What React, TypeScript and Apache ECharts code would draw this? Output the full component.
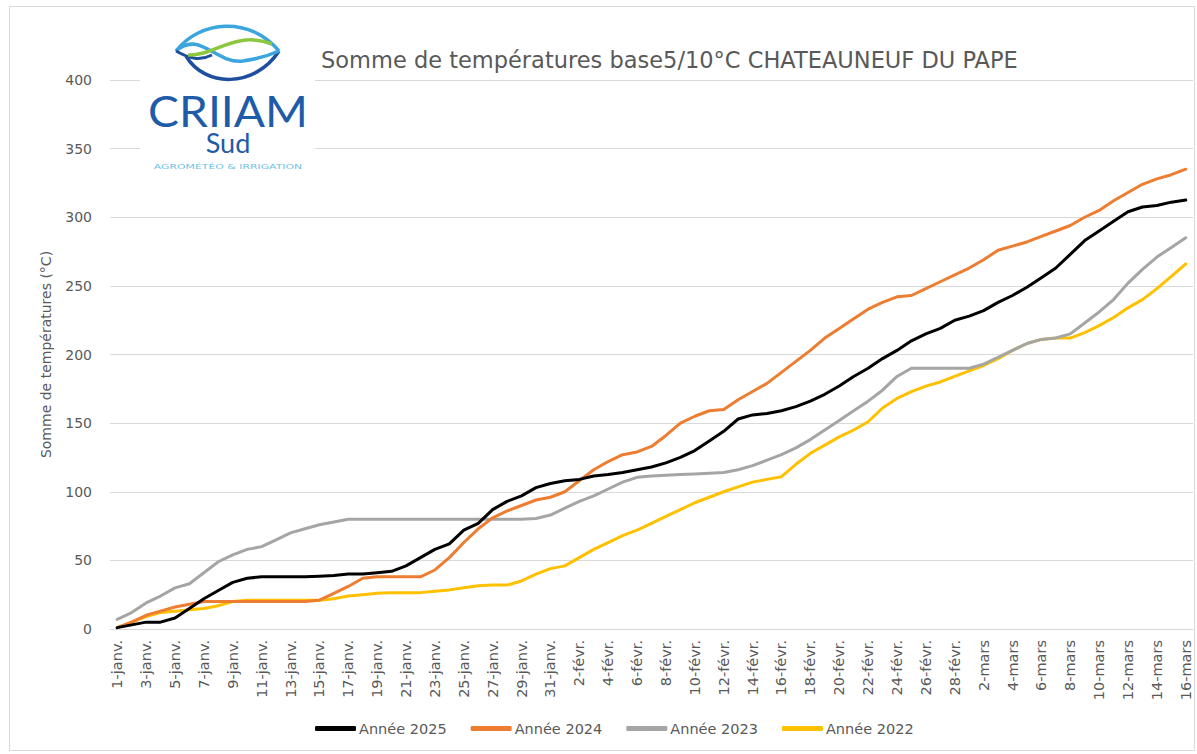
import React, { useEffect, useRef } from "react";
import * as echarts from "echarts";

const categories = [
  "1-janv.", "2-janv.", "3-janv.", "4-janv.", "5-janv.", "6-janv.", "7-janv.", "8-janv.", "9-janv.", "10-janv.",
  "11-janv.", "12-janv.", "13-janv.", "14-janv.", "15-janv.", "16-janv.", "17-janv.", "18-janv.", "19-janv.", "20-janv.",
  "21-janv.", "22-janv.", "23-janv.", "24-janv.", "25-janv.", "26-janv.", "27-janv.", "28-janv.", "29-janv.", "30-janv.",
  "31-janv.", "1-févr.", "2-févr.", "3-févr.", "4-févr.", "5-févr.", "6-févr.", "7-févr.", "8-févr.", "9-févr.",
  "10-févr.", "11-févr.", "12-févr.", "13-févr.", "14-févr.", "15-févr.", "16-févr.", "17-févr.", "18-févr.", "19-févr.",
  "20-févr.", "21-févr.", "22-févr.", "23-févr.", "24-févr.", "25-févr.", "26-févr.", "27-févr.", "28-févr.", "1-mars",
  "2-mars", "3-mars", "4-mars", "5-mars", "6-mars", "7-mars", "8-mars", "9-mars", "10-mars", "11-mars",
  "12-mars", "13-mars", "14-mars", "15-mars", "16-mars",
];

const annee2025 = [
  1, 3, 5, 5, 8, 15, 22, 28, 34, 37,
  38, 38, 38, 38, 38.5, 39, 40, 40, 41, 42,
  46, 52, 58, 62, 72, 77, 87, 93, 97, 103,
  106, 108, 109, 111.5, 112.5, 114, 116, 118, 121, 125,
  130, 137, 144, 153, 156, 157, 159, 162, 166, 171,
  177, 184, 190, 197, 203, 210, 215, 219, 225, 228,
  232, 238, 243, 249, 256, 263, 273, 283, 290, 297,
  304, 307.5, 308.5, 311, 312.5,
];

const annee2024 = [
  1, 5, 10, 13, 16, 18, 20, 20, 20, 20,
  20, 20, 20, 20, 21, 26, 31, 37, 38, 38,
  38, 38, 43, 52, 63, 73, 81, 86, 90, 94,
  96, 100, 108, 116, 122, 127, 129, 133, 141, 150,
  155, 159, 160, 167, 173, 179, 187, 195, 203, 212,
  219, 226, 233, 238, 242, 243, 248, 253, 258, 263,
  269, 276, 279, 282, 286, 290, 294, 300, 305, 312,
  318, 324, 328, 331, 335,
];

const annee2023 = [
  7, 12, 19, 24, 30, 33, 41, 49, 54, 58,
  60, 65, 70, 73, 76, 78, 80, 80, 80, 80,
  80, 80, 80, 80, 80, 80, 80, 80, 80, 80.5,
  83, 88, 93, 97, 102, 107, 110.5, 111.5, 112, 112.5,
  113, 113.5, 114, 116, 119, 123, 127, 132, 138, 145,
  152, 159, 166, 174, 184, 190, 190, 190, 190, 190,
  193, 198, 203, 208, 211, 212, 215, 223, 231, 240,
  252, 262, 271, 278, 285,
];

const annee2022 = [
  1, 5, 9, 12, 13, 14, 15, 17, 20, 21,
  21, 21, 21, 21, 21, 22, 24, 25, 26, 26.5,
  26.5, 26.5, 27.5, 28.5, 30, 31.5, 32, 32, 35, 40,
  44, 46, 52, 58, 63, 68, 72, 77, 82, 87,
  92, 96, 100, 103.5, 107, 109, 111, 120, 128, 134,
  140, 145, 151, 161, 168, 173, 177, 180, 184, 188,
  192, 197, 203, 208, 211, 212, 212, 216, 221, 227,
  234, 240, 248, 257, 266,
];

const seriesNames = ["Année 2025", "Année 2024", "Année 2023", "Année 2022"];
const seriesColors = ["#000000", "#ED7D31", "#A5A5A5", "#FFC000"];
const seriesData = [annee2025, annee2024, annee2023, annee2022];

const FONT = "DejaVu Sans";
const TXT = "#595959";

export default function App() {
  const ref = useRef<HTMLDivElement>(null);

  useEffect(() => {
    if (!ref.current) return;
    const chart = echarts.init(ref.current, undefined, { renderer: "svg" });

    const series = [3, 2, 1, 0].map((k) => ({
      name: seriesNames[k],
      type: "line",
      data: seriesData[k],
      showSymbol: false,
      symbol: "none",
      smooth: false,
      lineStyle: { color: seriesColors[k], width: 3, cap: "round", join: "round" },
      itemStyle: { color: seriesColors[k] },
    }));

    const option: any = {
      animation: false,
      backgroundColor: "#ffffff",
      title: {
        text: "Somme de températures base5/10°C CHATEAUNEUF DU PAPE",
        left: 316,
        top: 43,
        textStyle: { fontSize: 22.5, fontWeight: "normal", color: TXT, fontFamily: FONT },
      },
      grid: { left: 110, right: 4, top: 80, bottom: 125, containLabel: false },
      legend: {
        data: seriesNames,
        left: 315,
        top: 721,
        padding: 0,
        itemWidth: 41,
        itemHeight: 5,
        itemGap: 24,
        icon: "roundRect",
        textStyle: { fontSize: 14.5, color: TXT, fontFamily: FONT, padding: [0, 0, 0, -2] },
      },
      xAxis: {
        type: "category",
        data: categories,
        boundaryGap: true,
        axisLine: { lineStyle: { color: "#D9D9D9", width: 1 } },
        axisTick: { interval: 1, length: 6, lineStyle: { color: "#D9D9D9" } },
        axisLabel: {
          interval: 1,
          rotate: 90,
          margin: 11,
          fontSize: 14.5,
          color: TXT,
          fontFamily: FONT,
        },
      },
      yAxis: {
        type: "value",
        min: 0,
        max: 400,
        interval: 50,
        name: "Somme de températures (°C)",
        nameLocation: "middle",
        nameGap: 57,
        nameTextStyle: { fontSize: 14, color: TXT, fontFamily: FONT },
        axisLabel: { fontSize: 14, color: TXT, fontFamily: FONT, margin: 18 },
        axisLine: { show: false },
        axisTick: { show: false },
        splitLine: { lineStyle: { color: "#D9D9D9", width: 1 } },
      },
      graphic: [
        {
          type: "rect",
          shape: { x: 9.5, y: 6.5, width: 1185, height: 744 },
          style: { fill: "none", stroke: "#D9D9D9", lineWidth: 1 },
          z: -10,
          silent: true,
        },
        {
          type: "rect",
          shape: { x: 140, y: 20, width: 175, height: 155 },
          style: { fill: "#ffffff" },
          z: 50,
          silent: true,
        },
        // logo waves
        {
          type: "bezierCurve",
          shape: { x1: 176, y1: 51, cpx1: 200, cpy1: 20, cpx2: 250, cpy2: 16, x2: 279, y2: 51 },
          style: { stroke: "#3AA6DD", lineWidth: 3.5, fill: "none" },
          z: 51,
        },
        {
          type: "bezierCurve",
          shape: { x1: 186, y1: 56, cpx1: 205, cpy1: 88, cpx2: 255, cpy2: 88, x2: 279, y2: 51 },
          style: { stroke: "#1E4F9E", lineWidth: 3.5, fill: "none" },
          z: 51,
        },
        {
          type: "bezierCurve",
          shape: { x1: 176, y1: 51, cpx1: 200, cpy1: 30, cpx2: 215, cpy2: 64, x2: 243, y2: 61 },
          style: { stroke: "#3AA6DD", lineWidth: 3.5, fill: "none" },
          z: 51,
        },
        {
          type: "bezierCurve",
          shape: { x1: 243, y1: 61, cpx1: 258, cpy1: 59, cpx2: 270, cpy2: 55, x2: 279, y2: 51 },
          style: { stroke: "#3AA6DD", lineWidth: 3.5, fill: "none" },
          z: 51,
        },
        {
          type: "bezierCurve",
          shape: { x1: 176, y1: 51, cpx1: 190, cpy1: 59, cpx2: 200, cpy2: 61, x2: 212, y2: 55 },
          style: { stroke: "#1E4F9E", lineWidth: 3, fill: "none" },
          z: 51,
        },
        {
          type: "bezierCurve",
          shape: { x1: 188, y1: 55, cpx1: 215, cpy1: 56, cpx2: 235, cpy2: 30, x2: 272, y2: 44 },
          style: { stroke: "#8DC63F", lineWidth: 3.5, fill: "none" },
          z: 52,
        },
        {
          type: "text",
          x: 228,
          y: 110,
          scaleX: 1.1,
          style: {
            text: "CRIIAM",
            fontSize: 42,
            fontFamily: "Lato",
            fontWeight: "normal",
            fill: "#1E5BA8",
            align: "center",
            verticalAlign: "middle",
          },
          z: 52,
        },
        {
          type: "text",
          x: 228,
          y: 142,
          style: {
            text: "Sud",
            fontSize: 27,
            fontFamily: "Lato",
            fill: "#1E5BA8",
            align: "center",
            verticalAlign: "middle",
          },
          z: 52,
        },
        {
          type: "text",
          x: 228,
          y: 166,
          scaleX: 1.45,
          style: {
            text: "AGROMÉTÉO & IRRIGATION",
            fontSize: 7.5,
            fontFamily: FONT,
            fill: "#6EC1E4",
            align: "center",
            verticalAlign: "middle",
          },
          z: 52,
        },
      ],
      series,
    };

    chart.setOption(option);
    return () => chart.dispose();
  }, []);

  return (
    <div
      ref={ref}
      style={{ position: "fixed", left: 0, top: 0, width: 1197, height: 754, background: "#fff" }}
    />
  );
}
